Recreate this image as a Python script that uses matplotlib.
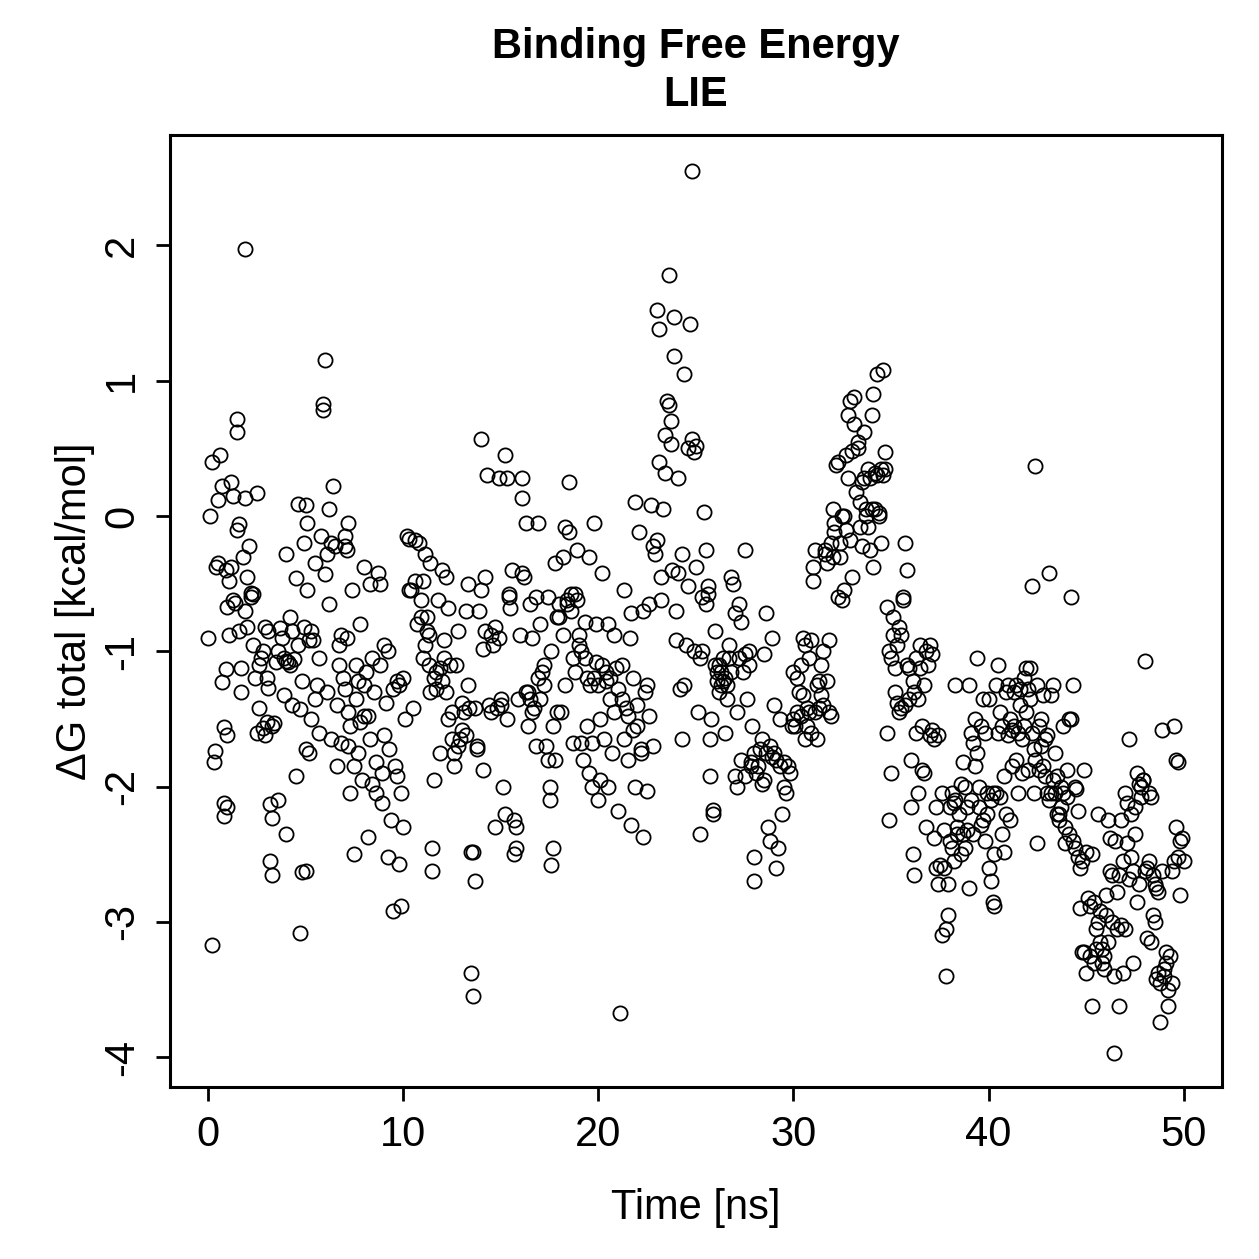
import matplotlib
matplotlib.use("Agg")
import matplotlib.pyplot as plt

plt.rcParams['font.family'] = ['Liberation Sans', 'DejaVu Sans']

title_lines = ["Binding Free Energy", "LIE"]
x_label = "Time [ns]"
y_label = "ΔG total [kcal/mol]"
x_ticks = [0, 10, 20, 30, 40, 50]
y_ticks = [-4, -3, -2, -1, 0, 1, 2]

time_ns = [
0.0,0.1,0.2,0.2,0.3,0.35,0.4,0.5,0.5,0.6,0.7,0.7,0.8,0.8,0.8,0.9,0.9,1.0,1.0,1.0,
1.1,1.1,1.2,1.2,1.3,1.3,1.4,1.5,1.5,1.5,1.6,1.6,1.7,1.7,1.8,1.9,1.9,1.9,2.0,2.0,
2.1,2.2,2.2,2.3,2.3,2.4,2.5,2.5,2.6,2.6,2.7,2.8,2.8,2.9,2.9,3.0,3.0,3.1,3.1,3.2,
3.2,3.3,3.3,3.3,3.4,3.5,3.6,3.6,3.7,3.8,3.9,3.9,4.0,4.0,4.0,4.1,4.2,4.2,4.3,4.3,
4.4,4.5,4.5,4.6,4.6,4.7,4.7,4.8,4.8,4.9,4.9,5.0,5.0,5.0,5.1,5.1,5.2,5.2,5.3,5.3,
5.4,5.5,5.5,5.6,5.7,5.7,5.8,5.9,5.9,6.0,6.0,6.1,6.1,6.2,6.2,6.3,6.3,6.4,6.5,6.6,
6.6,6.7,6.7,6.8,6.8,6.9,7.0,7.0,7.0,7.1,7.1,7.2,7.2,7.2,7.3,7.3,7.4,7.5,7.5,7.6,
7.6,7.7,7.7,7.8,7.8,7.9,8.0,8.0,8.0,8.1,8.2,8.2,8.3,8.3,8.4,8.4,8.5,8.6,8.6,8.7,
8.8,8.8,8.9,8.9,9.0,9.0,9.1,9.2,9.2,9.3,9.4,9.5,9.5,9.6,9.7,9.7,9.8,9.8,9.9,9.9,
10.0,10.0,10.1,10.2,10.3,10.3,10.4,10.5,10.6,10.6,10.7,10.8,10.9,10.9,11.0,11.0,11.1,11.1,11.2,11.2,
11.3,11.3,11.4,11.4,11.5,11.5,11.6,11.6,11.7,11.7,11.8,11.9,11.9,12.0,12.0,12.1,12.1,12.2,12.2,12.3,
12.3,12.4,12.5,12.5,12.6,12.6,12.7,12.8,12.8,12.9,13.0,13.0,13.1,13.2,13.2,13.3,13.3,13.4,13.5,13.5,
13.6,13.6,13.7,13.7,13.8,13.8,13.9,14.0,14.0,14.1,14.1,14.2,14.2,14.3,14.4,14.5,14.5,14.6,14.7,14.7,
14.8,14.9,14.9,15.0,15.0,15.1,15.2,15.2,15.3,15.3,15.4,15.4,15.5,15.6,15.7,15.7,15.8,15.8,15.9,16.0,
16.1,16.1,16.1,16.2,16.3,16.3,16.4,16.4,16.5,16.5,16.6,16.6,16.7,16.8,16.8,16.9,16.9,17.0,17.0,17.1,
17.2,17.2,17.3,17.4,17.4,17.5,17.5,17.6,17.6,17.7,17.7,17.8,17.8,17.9,17.9,18.0,18.0,18.1,18.2,18.2,
18.3,18.3,18.4,18.4,18.5,18.5,18.6,18.6,18.7,18.7,18.8,18.8,18.9,18.9,19.0,19.0,19.1,19.1,19.2,19.3,
19.3,19.4,19.4,19.5,19.5,19.6,19.7,19.7,19.8,19.8,19.9,19.9,20.0,20.0,20.1,20.1,20.2,20.2,20.3,20.4,
20.4,20.5,20.5,20.6,20.6,20.7,20.8,20.8,20.9,21.0,21.0,21.1,21.2,21.2,21.3,21.3,21.4,21.5,21.5,21.6,
21.7,21.7,21.8,21.8,21.9,21.9,22.0,22.0,22.1,22.2,22.2,22.3,22.3,22.4,22.5,22.5,22.6,22.6,22.7,22.8,
22.8,22.9,23.0,23.0,23.1,23.1,23.2,23.2,23.3,23.4,23.4,23.5,23.6,23.6,23.7,23.7,23.8,23.9,23.9,24.0,
24.0,24.1,24.1,24.2,24.3,24.3,24.4,24.4,24.5,24.6,24.6,24.7,24.8,24.8,24.9,24.9,25.0,25.0,25.1,25.2,
25.2,25.3,25.3,25.4,25.5,25.5,25.6,25.6,25.7,25.7,25.8,25.9,25.9,26.0,26.0,26.1,26.1,26.2,26.2,26.3,
26.3,26.4,26.4,26.5,26.5,26.6,26.6,26.7,26.7,26.8,26.8,26.9,27.0,27.0,27.1,27.1,27.2,27.2,27.3,27.3,
27.4,27.5,27.5,27.5,27.6,27.7,27.7,27.8,27.8,27.9,28.0,28.0,28.0,28.1,28.2,28.3,28.4,28.4,28.5,28.5,
28.6,28.6,28.7,28.8,28.8,28.9,28.9,29.0,29.0,29.1,29.1,29.2,29.3,29.3,29.4,29.5,29.5,29.6,29.7,29.8,
29.9,30.0,30.0,30.1,30.2,30.2,30.3,30.4,30.4,30.5,30.5,30.6,30.6,30.7,30.7,30.8,30.8,30.9,30.9,31.0,
31.0,31.1,31.1,31.2,31.2,31.3,31.3,31.4,31.4,31.5,31.5,31.6,31.6,31.7,31.7,31.8,31.8,31.9,31.9,32.0,
32.0,32.1,32.1,32.2,32.3,32.3,32.4,32.4,32.5,32.5,32.6,32.6,32.7,32.7,32.8,32.8,32.9,32.9,33.0,33.0,
33.1,33.1,33.2,33.3,33.3,33.4,33.4,33.5,33.5,33.6,33.6,33.7,33.7,33.8,33.8,33.9,33.9,34.0,34.0,34.1,
34.1,34.2,34.2,34.3,34.3,34.4,34.4,34.5,34.5,34.6,34.6,34.7,34.7,34.8,34.8,34.9,34.9,35.0,35.0,35.1,
35.1,35.2,35.2,35.3,35.3,35.4,35.4,35.5,35.5,35.6,35.6,35.7,35.7,35.8,35.8,35.9,35.9,36.0,36.0,36.1,
36.1,36.2,36.2,36.3,36.3,36.4,36.4,36.5,36.5,36.6,36.6,36.7,36.7,36.8,36.8,36.9,37.0,37.0,37.1,37.1,
37.2,37.2,37.3,37.3,37.4,37.4,37.5,37.6,37.6,37.7,37.7,37.8,37.8,37.9,37.9,38.0,38.0,38.1,38.1,38.2,
38.2,38.3,38.3,38.4,38.4,38.5,38.6,38.6,38.7,38.7,38.8,38.8,38.9,38.9,39.0,39.0,39.1,39.1,39.2,39.2,
39.3,39.3,39.4,39.4,39.5,39.5,39.6,39.6,39.7,39.7,39.8,39.8,39.9,39.9,40.0,40.0,40.1,40.1,40.2,40.2,
40.3,40.3,40.4,40.4,40.5,40.5,40.6,40.6,40.7,40.7,40.8,40.8,40.9,40.9,41.0,41.0,41.1,41.1,41.2,41.2,
41.3,41.3,41.4,41.4,41.5,41.5,41.6,41.6,41.7,41.7,41.8,41.8,41.9,41.9,42.0,42.0,42.1,42.1,42.2,42.2,
42.3,42.3,42.4,42.4,42.5,42.5,42.6,42.6,42.7,42.7,42.8,42.8,42.9,42.9,43.0,43.0,43.1,43.1,43.2,43.2,
43.3,43.3,43.4,43.4,43.5,43.5,43.6,43.6,43.7,43.7,43.8,43.8,43.9,43.9,44.0,44.0,44.1,44.1,44.2,44.2,
44.3,44.3,44.4,44.4,44.5,44.6,44.6,44.7,44.7,44.8,44.8,44.9,44.9,45.0,45.0,45.1,45.2,45.2,45.3,45.3,
45.4,45.4,45.5,45.5,45.6,45.6,45.7,45.7,45.8,45.8,45.9,45.9,46.0,46.0,46.1,46.1,46.2,46.2,46.3,46.3,
46.4,46.4,46.5,46.6,46.6,46.7,46.7,46.8,46.8,46.9,46.9,47.0,47.0,47.1,47.1,47.2,47.2,47.3,47.3,47.4,
47.4,47.5,47.5,47.6,47.6,47.7,47.7,47.8,47.8,47.9,47.9,48.0,48.0,48.1,48.1,48.2,48.2,48.3,48.3,48.4,
48.4,48.5,48.5,48.6,48.6,48.7,48.7,48.8,48.8,48.9,48.9,49.0,49.0,49.1,49.1,49.2,49.2,49.3,49.4,49.4,
49.5,49.5,49.6,49.6,49.7,49.7,49.8,49.8,49.9,50.0,
]

dg_total = [
-0.9,0.0,0.4,-3.17,-1.82,-1.74,-0.38,0.12,-0.35,0.45,0.22,-1.23,-2.22,-2.12,-1.56,-0.4,-1.13,-1.62,-2.15,-0.67,
-0.48,-0.88,-0.38,0.25,0.15,-0.62,-0.64,0.62,0.72,-0.1,-0.06,-0.85,-1.12,-1.3,-0.3,1.97,0.13,-0.7,-0.45,-0.82,
-0.22,-0.57,-0.6,-0.58,-0.95,-1.2,0.17,-1.6,-1.42,-1.1,-1.05,-1.0,-1.57,-0.82,-1.62,-1.52,-1.2,-0.85,-1.27,-2.55,
-2.13,-2.23,-2.65,-1.55,-1.53,-1.08,-1.0,-2.1,-0.83,-0.9,-1.05,-1.32,-0.28,-2.35,-1.07,-1.08,-0.75,-1.1,-0.85,-1.4,
-1.06,-1.92,-0.46,-0.95,0.09,-1.43,-3.08,-2.63,-1.22,-0.2,-0.82,0.08,-1.72,-2.62,-0.05,-0.55,-1.75,-0.92,-1.5,-0.85,
-0.92,-1.35,-0.35,-1.25,-1.05,-1.6,-0.15,0.78,0.83,1.15,-0.43,-0.28,-1.3,0.05,-0.65,-0.2,-1.65,0.22,-0.22,-1.85,
-1.4,-1.1,-0.95,-0.88,-1.68,-1.2,-0.15,-1.28,-0.22,-0.25,-0.9,-1.45,-0.05,-1.7,-1.55,-2.05,-0.55,-1.85,-2.5,-1.35,
-1.1,-1.75,-1.22,-0.8,-1.52,-1.95,-1.25,-0.38,-1.48,-1.15,-2.37,-1.48,-0.5,-1.65,-1.05,-1.98,-1.3,-2.05,-1.82,-0.42,
-0.5,-1.1,-1.9,-2.12,-1.62,-0.95,-1.38,-1.0,-2.52,-1.72,-2.25,-2.92,-1.28,-1.85,-1.92,-1.22,-2.57,-1.25,-2.05,-2.88,
-2.3,-1.2,-1.5,-0.15,-0.55,-0.17,-0.55,-1.42,-0.48,-0.18,-0.8,-0.2,-0.75,-0.62,-1.05,-0.48,-0.95,-0.28,-0.75,-0.85,
-1.1,-0.88,-1.3,-0.35,-2.45,-2.62,-1.95,-1.2,-1.15,-1.28,-0.62,-1.12,-1.75,-0.4,-1.22,-1.05,-0.92,-1.3,-0.45,-1.5,
-0.68,-1.1,-1.45,-1.65,-1.85,-1.75,-1.1,-0.85,-1.7,-1.65,-1.38,-1.58,-1.45,-1.62,-0.7,-1.25,-0.5,-1.42,-2.48,-3.38,
-2.48,-3.55,-2.7,-1.42,-1.72,-1.7,-0.7,-0.55,0.57,-1.88,-0.98,-0.45,-0.85,0.3,-1.4,-1.45,-0.88,-0.95,-0.82,-2.3,
-1.42,-0.9,0.28,-1.35,-1.4,-2.0,-2.2,0.45,0.28,-1.5,-0.58,-0.6,-0.68,-0.4,-2.25,-2.5,-2.45,-2.3,-1.35,-0.88,
-0.42,0.13,0.28,-0.45,-1.3,-0.05,-1.3,-1.55,-1.35,-0.65,-1.45,-0.9,-1.42,-0.6,-1.7,-1.2,-0.05,-1.35,-0.8,-1.15,
-1.25,-1.1,-1.7,-0.6,-1.8,-2.0,-2.1,-2.58,-1.0,-1.55,-2.45,-0.35,-1.8,-1.45,-0.75,-0.65,-0.75,-1.45,-0.3,-0.88,
-0.08,-1.25,-0.65,-0.62,0.25,-0.12,-0.7,-0.58,-1.05,-1.68,-1.15,-0.58,-0.62,-0.25,-0.95,-0.88,-1.0,-1.68,-1.8,-0.78,
-1.05,-1.55,-1.2,-1.9,-0.3,-1.25,-2.0,-1.68,-1.2,-0.05,-1.08,-0.8,-1.25,-2.1,-1.95,-1.5,-0.42,-1.1,-1.65,-1.15,
-1.22,-0.8,-2.0,-1.2,-1.35,-1.75,-1.45,-0.88,-1.12,-1.28,-2.18,-3.67,-1.35,-1.1,-0.55,-1.65,-1.42,-1.48,-1.8,-0.9,
-2.28,-0.72,-1.2,-1.58,-2.0,0.1,-1.4,-1.55,-0.12,-1.75,-1.72,-0.7,-2.37,-1.3,-1.25,-2.03,-1.48,-0.65,0.08,-1.7,
-0.22,-0.28,-0.18,1.52,1.38,0.4,-0.62,-0.45,0.05,0.32,0.6,0.85,0.82,1.78,0.7,0.53,-0.4,1.47,1.18,-0.92,
-0.7,-0.42,0.28,-1.28,-0.28,-1.65,1.05,-1.25,-0.95,-0.52,0.5,1.42,2.55,0.57,0.47,-1.0,0.52,-0.38,-1.45,-2.35,
-1.05,-0.6,-1.0,0.03,-0.25,-0.65,-0.52,-0.58,-1.92,-1.65,-1.5,-2.2,-2.17,-0.85,-1.1,-1.15,-1.22,-1.1,-1.3,-1.25,
-1.15,-1.05,-1.22,-1.6,-1.2,-1.25,-1.35,-0.95,-1.05,-1.15,-0.45,-0.5,-1.92,-0.72,-1.45,-2.0,-0.65,-1.05,-0.78,-1.8,
-1.15,-1.02,-1.92,-0.25,-1.35,-1.1,-1.0,-1.85,-1.82,-1.55,-2.52,-1.75,-2.7,-1.9,-1.85,-1.72,-1.65,-1.98,-1.95,-1.02,
-0.72,-1.75,-2.3,-2.4,-1.7,-1.78,-0.9,-1.4,-1.75,-2.6,-1.8,-2.45,-1.5,-1.85,-2.2,-2.0,-1.82,-2.05,-1.85,-1.9,
-1.55,-1.5,-1.15,-1.55,-1.45,-1.2,-1.3,-1.48,-1.1,-0.9,-1.32,-1.65,-0.95,-1.42,-1.55,-1.05,-1.45,-0.92,-1.6,-0.48,
-0.38,-0.25,-1.45,-1.65,-1.25,-1.42,-1.22,-1.32,-1.1,-1.4,-1.0,-0.25,-0.28,-0.35,-1.22,-1.45,-0.92,-0.2,-1.48,-0.3,
0.05,-0.05,-0.12,0.38,0.4,-0.6,-0.2,-0.3,0.0,-0.62,0.0,-0.55,0.45,-0.1,0.75,0.28,0.85,-0.18,0.48,-0.45,
0.88,0.68,0.18,0.5,0.55,0.1,-0.08,-0.22,0.25,0.62,0.28,0.0,0.05,-0.08,0.35,0.28,-0.25,0.05,0.75,0.9,
-0.38,0.32,0.05,1.05,0.3,0.0,0.02,0.35,-0.2,0.3,1.08,0.35,0.47,-0.67,-1.6,-1.0,-2.25,-1.9,-1.05,-0.88,
-0.75,-1.3,-1.12,-1.38,-0.95,-0.82,-1.45,-0.88,-1.42,-0.62,-0.6,-0.2,-1.4,-0.4,-1.1,-1.12,-1.35,-2.15,-1.8,-1.22,
-2.5,-2.65,-1.3,-1.6,-1.05,-1.35,-2.05,-1.12,-0.95,-1.88,-1.55,-1.9,-1.25,-1.0,-2.3,-1.1,-0.95,-1.62,-1.58,-1.02,
-1.65,-2.38,-2.15,-2.6,-1.62,-2.72,-2.58,-3.1,-2.05,-2.32,-2.6,-3.05,-3.4,-2.95,-2.72,-2.4,-2.15,-2.45,-2.05,-2.12,
-2.55,-2.1,-1.25,-2.35,-2.3,-2.2,-2.5,-1.98,-2.35,-1.82,-2.0,-2.45,-2.15,-2.32,-2.75,-1.25,-1.6,-2.1,-2.35,-1.68,
-1.5,-1.85,-1.75,-1.05,-2.15,-2.0,-2.28,-1.55,-2.25,-1.35,-1.6,-2.4,-2.2,-2.05,-1.35,-2.6,-2.7,-2.1,-2.85,-2.05,
-2.88,-2.5,-2.05,-1.25,-1.1,-1.6,-2.08,-1.45,-2.35,-1.55,-2.48,-1.92,-2.2,-1.3,-1.25,-1.62,-2.25,-1.5,-1.85,-1.58,
-1.3,-1.55,-1.8,-1.25,-1.6,-2.05,-1.4,-1.28,-1.65,-1.9,-1.2,-1.55,-1.12,-1.45,-1.88,-1.28,-1.35,-1.12,-0.52,-1.6,
-1.72,-2.05,0.37,-1.8,-1.25,-2.42,-1.55,-1.88,-1.7,-1.5,-1.32,-1.85,-1.65,-1.92,-2.05,-1.62,-2.1,-0.42,-1.32,-2.05,
-1.95,-1.25,-1.75,-2.05,-2.2,-1.92,-2.25,-2.2,-2.0,-2.15,-2.05,-1.55,-2.3,-2.42,-1.88,-2.08,-1.5,-2.35,-0.6,-1.5,
-1.25,-2.4,-2.0,-2.45,-2.02,-2.52,-2.18,-2.9,-2.6,-3.22,-2.55,-1.88,-3.22,-2.48,-3.38,-2.82,-2.88,-3.25,-3.62,-2.5,
-2.85,-3.3,-3.05,-3.2,-2.2,-3.0,-3.15,-2.92,-3.3,-3.2,-3.25,-3.35,-2.95,-2.8,-3.15,-2.25,-2.38,-2.62,-3.0,-2.65,
-3.97,-3.4,-2.4,-2.78,-3.05,-2.65,-3.62,-2.25,-3.02,-3.38,-2.55,-3.05,-2.05,-2.12,-2.42,-1.65,-2.68,-2.2,-2.52,-3.3,
-2.62,-2.15,-2.35,-1.9,-2.85,-1.98,-2.72,-2.0,-2.08,-1.95,-1.95,-1.07,-2.62,-3.12,-2.6,-2.05,-2.55,-2.08,-3.15,-2.95,
-2.65,-2.72,-3.0,-2.75,-3.42,-3.38,-2.78,-3.45,-3.74,-2.62,-1.58,-3.4,-3.35,-3.22,-3.3,-3.5,-3.62,-3.25,-3.45,-2.62,
-2.55,-1.55,-1.8,-2.3,-1.82,-2.52,-2.8,-2.4,-2.38,-2.55,
]

n = min(len(time_ns), len(dg_total))

fig = plt.figure(figsize=(12.59, 12.59), dpi=100)
ax = fig.add_axes([0.135, 0.1366, 0.8355, 0.7562])
ax.plot(time_ns[:n], dg_total[:n], linestyle='none', marker='o', markersize=10.2,
        markerfacecolor='none', markeredgecolor='black', markeredgewidth=1.3)

ax.set_xlim(-1.947, 51.95)
ax.set_ylim(-4.22, 2.816)
ax.set_xticks(x_ticks)
ax.set_yticks(y_ticks)
ax.set_xticklabels([str(v) for v in x_ticks])
ax.set_yticklabels([str(v) for v in y_ticks], rotation=90, va='center')
ax.tick_params(direction='out', length=10, width=2.0, labelsize=30, pad=10, colors='black')
for s in ax.spines.values():
    s.set_linewidth(2.2)

ax.set_xlabel(x_label, fontsize=30, labelpad=24)
ax.set_ylabel(y_label, fontsize=30, labelpad=5)
fig.text(0.5525, 1 - 47/1259, title_lines[0], ha='center', va='center', fontsize=30, fontweight='bold')
fig.text(0.5525, 1 - 95/1259, title_lines[1], ha='center', va='center', fontsize=30, fontweight='bold')

fig.savefig('out.png', dpi=100)
